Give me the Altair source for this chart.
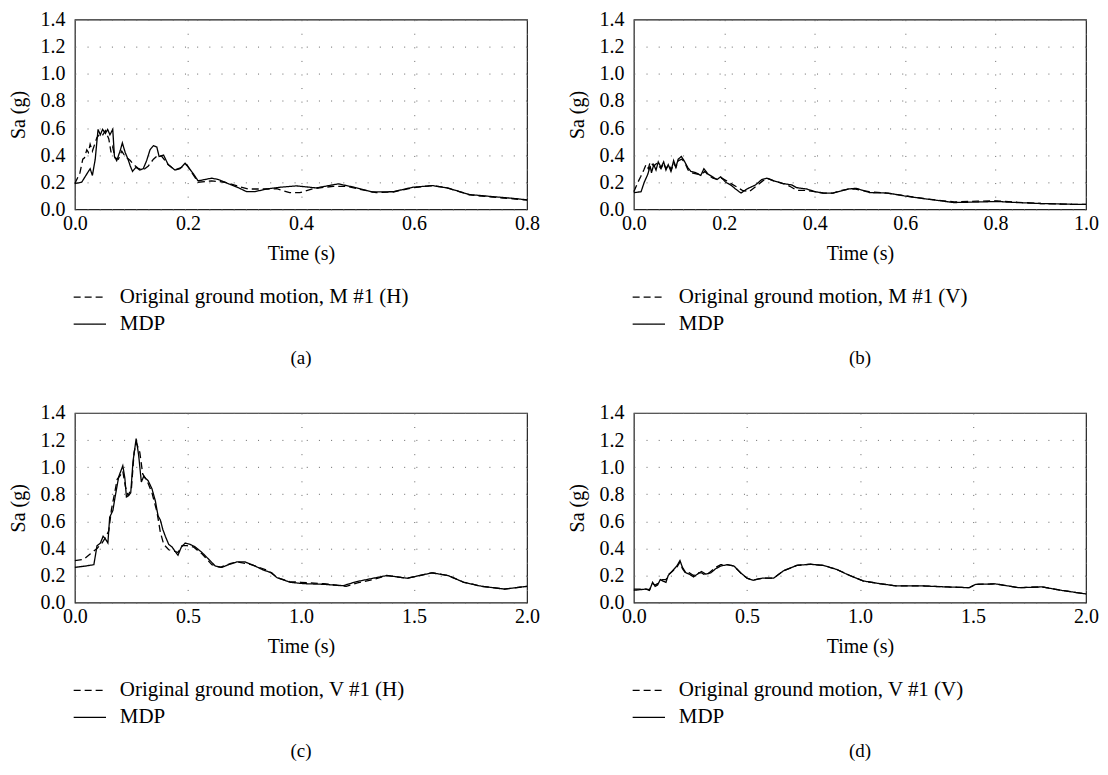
import altair as alt
import pandas as pd

FONT = "Liberation Serif"

# ---------------- panel (a) ----------------
a_mdp_t = [0.000, 0.012, 0.021, 0.027, 0.031, 0.036, 0.041, 0.045, 0.049, 0.054, 0.058, 0.062, 0.067,
           0.070, 0.074, 0.080, 0.084, 0.089, 0.094, 0.098, 0.102, 0.108, 0.115, 0.121, 0.127, 0.133,
           0.139, 0.145, 0.149, 0.157, 0.165, 0.177, 0.186, 0.195, 0.201, 0.210, 0.218, 0.230, 0.242,
           0.254, 0.271, 0.289, 0.304, 0.318, 0.339, 0.363, 0.392, 0.427, 0.466, 0.492, 0.527, 0.563,
           0.598, 0.633, 0.660, 0.698, 0.739, 0.775, 0.800]
a_mdp_sa = [0.19, 0.20, 0.26, 0.30, 0.25, 0.37, 0.59, 0.55, 0.59, 0.56, 0.59, 0.55, 0.59,
            0.39, 0.36, 0.43, 0.49, 0.42, 0.37, 0.32, 0.28, 0.31, 0.29, 0.30, 0.36, 0.44,
            0.47, 0.46, 0.39, 0.40, 0.33, 0.29, 0.30, 0.34, 0.31, 0.26, 0.21, 0.22, 0.23,
            0.22, 0.19, 0.16, 0.13, 0.13, 0.15, 0.163, 0.173, 0.158, 0.188, 0.165, 0.128, 0.13,
            0.163, 0.175, 0.157, 0.109, 0.094, 0.081, 0.070]
a_org_t = [0.000, 0.009, 0.014, 0.017, 0.021, 0.024, 0.027, 0.031, 0.035, 0.039, 0.043, 0.048, 0.054,
           0.060, 0.064, 0.067, 0.071, 0.077, 0.083, 0.089, 0.098, 0.104, 0.113, 0.121, 0.130, 0.139,
           0.147, 0.154, 0.165, 0.177, 0.189, 0.198, 0.207, 0.218, 0.242, 0.265, 0.289, 0.307, 0.324,
           0.342, 0.357, 0.380, 0.398, 0.421, 0.457, 0.480, 0.504, 0.533, 0.563, 0.598, 0.633, 0.660,
           0.698, 0.739, 0.775, 0.800]
a_org_sa = [0.19, 0.27, 0.37, 0.38, 0.44, 0.42, 0.48, 0.43, 0.48, 0.53, 0.55, 0.54, 0.58,
            0.52, 0.42, 0.46, 0.38, 0.37, 0.43, 0.39, 0.36, 0.33, 0.30, 0.29, 0.32, 0.37,
            0.40, 0.39, 0.33, 0.29, 0.31, 0.33, 0.27, 0.20, 0.21, 0.20, 0.17, 0.15, 0.15,
            0.15, 0.152, 0.123, 0.123, 0.152, 0.17, 0.17, 0.148, 0.123, 0.128, 0.16, 0.175, 0.157,
            0.107, 0.090, 0.078, 0.068]

# ---------------- panel (b) ----------------
b_mdp_t = [0.000, 0.016, 0.023, 0.031, 0.036, 0.039, 0.044, 0.049, 0.054, 0.060, 0.066, 0.071, 0.076,
           0.082, 0.088, 0.093, 0.098, 0.105, 0.111, 0.119, 0.126, 0.137, 0.148, 0.155, 0.164, 0.174,
           0.184, 0.192, 0.203, 0.214, 0.225, 0.237, 0.250, 0.269, 0.283, 0.294, 0.309, 0.331, 0.349,
           0.360, 0.382, 0.401, 0.419, 0.441, 0.463, 0.474, 0.492, 0.522, 0.562, 0.598, 0.650, 0.708,
           0.760, 0.803, 0.848, 0.906, 0.972, 1.000]
b_mdp_sa = [0.123, 0.13, 0.20, 0.26, 0.32, 0.27, 0.33, 0.29, 0.35, 0.31, 0.35, 0.29, 0.33,
            0.28, 0.36, 0.31, 0.37, 0.39, 0.36, 0.31, 0.28, 0.27, 0.25, 0.30, 0.26, 0.24,
            0.22, 0.24, 0.20, 0.18, 0.15, 0.12, 0.15, 0.18, 0.22, 0.23, 0.21, 0.19, 0.18,
            0.16, 0.15, 0.13, 0.12, 0.12, 0.14, 0.15, 0.155, 0.123, 0.12, 0.099, 0.075, 0.05,
            0.054, 0.058, 0.05, 0.042, 0.037, 0.037]
b_org_t = [0.000, 0.009, 0.015, 0.022, 0.027, 0.032, 0.036, 0.044, 0.051, 0.060, 0.066, 0.071, 0.077,
           0.083, 0.088, 0.093, 0.099, 0.106, 0.112, 0.120, 0.128, 0.140, 0.150, 0.157, 0.165, 0.175,
           0.185, 0.195, 0.205, 0.215, 0.225, 0.240, 0.255, 0.270, 0.285, 0.295, 0.310, 0.330, 0.345,
           0.360, 0.380, 0.400, 0.420, 0.440, 0.460, 0.475, 0.490, 0.520, 0.560, 0.600, 0.650, 0.708,
           0.760, 0.800, 0.850, 0.900, 0.970, 1.000]
b_org_sa = [0.13, 0.20, 0.24, 0.29, 0.33, 0.30, 0.35, 0.32, 0.34, 0.30, 0.34, 0.30, 0.33,
            0.29, 0.34, 0.31, 0.36, 0.37, 0.35, 0.29, 0.27, 0.26, 0.26, 0.28, 0.25, 0.23,
            0.22, 0.23, 0.21, 0.19, 0.17, 0.14, 0.13, 0.17, 0.21, 0.23, 0.21, 0.19, 0.17,
            0.14, 0.14, 0.13, 0.12, 0.12, 0.14, 0.15, 0.15, 0.13, 0.12, 0.10, 0.075, 0.055,
            0.060, 0.062, 0.052, 0.043, 0.037, 0.037]

# ---------------- panel (c) ----------------
c_mdp_t = [0.000, 0.047, 0.084, 0.098, 0.113, 0.125, 0.135, 0.146, 0.154, 0.168, 0.179, 0.194, 0.212,
           0.221, 0.228, 0.238, 0.247, 0.257, 0.271, 0.282, 0.294, 0.304, 0.324, 0.341, 0.356, 0.368,
           0.378, 0.389, 0.400, 0.415, 0.430, 0.447, 0.456, 0.471, 0.488, 0.510, 0.533, 0.562, 0.592,
           0.621, 0.650, 0.680, 0.716, 0.753, 0.797, 0.834, 0.871, 0.893, 0.952, 1.010, 1.100, 1.187,
           1.246, 1.320, 1.380, 1.470, 1.580, 1.650, 1.720, 1.800, 1.900, 2.000]
c_mdp_sa = [0.26, 0.27, 0.28, 0.42, 0.44, 0.49, 0.47, 0.44, 0.63, 0.68, 0.79, 0.93, 1.01,
            0.92, 0.78, 0.79, 0.81, 1.04, 1.21, 1.09, 0.89, 0.93, 0.90, 0.84, 0.75, 0.64,
            0.61, 0.54, 0.49, 0.43, 0.41, 0.37, 0.35, 0.41, 0.44, 0.43, 0.41, 0.37, 0.32,
            0.27, 0.26, 0.28, 0.30, 0.30, 0.27, 0.24, 0.22, 0.185, 0.15, 0.14, 0.135, 0.125,
            0.155, 0.18, 0.20, 0.18, 0.22, 0.20, 0.15, 0.12, 0.10, 0.12]
c_org_t = [0.000, 0.040, 0.069, 0.098, 0.120, 0.135, 0.150, 0.162, 0.176, 0.187, 0.201, 0.212, 0.223,
           0.235, 0.250, 0.262, 0.272, 0.287, 0.300, 0.319, 0.341, 0.363, 0.378, 0.393, 0.415, 0.437,
           0.456, 0.474, 0.496, 0.525, 0.562, 0.606, 0.643, 0.690, 0.720, 0.780, 0.850, 0.900, 0.950,
           1.000, 1.100, 1.200, 1.250, 1.320, 1.380, 1.470, 1.580, 1.650, 1.720, 1.800, 1.900, 2.000]
c_org_sa = [0.31, 0.32, 0.36, 0.40, 0.44, 0.48, 0.53, 0.69, 0.81, 0.91, 0.94, 0.97, 0.86,
            0.79, 0.84, 1.11, 1.18, 1.11, 0.95, 0.90, 0.81, 0.67, 0.52, 0.43, 0.39, 0.38,
            0.37, 0.42, 0.42, 0.41, 0.36, 0.28, 0.26, 0.29, 0.30, 0.28, 0.24, 0.18, 0.155,
            0.15, 0.14, 0.12, 0.145, 0.17, 0.20, 0.18, 0.22, 0.20, 0.15, 0.12, 0.10, 0.12]

# ---------------- panel (d) ----------------
d_mdp_t = [0.000, 0.054, 0.069, 0.083, 0.094, 0.105, 0.117, 0.127, 0.142, 0.152, 0.171, 0.190, 0.204,
           0.215, 0.230, 0.245, 0.264, 0.281, 0.299, 0.318, 0.340, 0.362, 0.384, 0.413, 0.443, 0.472,
           0.501, 0.527, 0.567, 0.618, 0.662, 0.721, 0.780, 0.838, 0.897, 0.955, 1.014, 1.087, 1.161,
           1.278, 1.380, 1.483, 1.512, 1.600, 1.703, 1.805, 1.893, 2.000]
d_mdp_sa = [0.091, 0.10, 0.09, 0.15, 0.12, 0.13, 0.17, 0.16, 0.15, 0.20, 0.235, 0.27, 0.31,
            0.26, 0.22, 0.21, 0.19, 0.21, 0.23, 0.21, 0.22, 0.25, 0.27, 0.28, 0.27, 0.22,
            0.18, 0.165, 0.18, 0.18, 0.235, 0.275, 0.283, 0.275, 0.245, 0.20, 0.16, 0.14, 0.123,
            0.123, 0.116, 0.11, 0.135, 0.138, 0.11, 0.116, 0.09, 0.064]
d_org_t = [0.000, 0.054, 0.069, 0.083, 0.094, 0.105, 0.117, 0.127, 0.142, 0.155, 0.170, 0.190, 0.204,
           0.215, 0.230, 0.245, 0.264, 0.281, 0.299, 0.318, 0.340, 0.362, 0.384, 0.413, 0.443, 0.472,
           0.501, 0.527, 0.567, 0.618, 0.662, 0.721, 0.780, 0.838, 0.897, 0.955, 1.014, 1.087, 1.161,
           1.278, 1.380, 1.483, 1.512, 1.600, 1.703, 1.805, 1.893, 2.000]
d_org_sa = [0.10, 0.10, 0.095, 0.14, 0.13, 0.14, 0.16, 0.17, 0.17, 0.21, 0.23, 0.26, 0.30,
            0.25, 0.215, 0.22, 0.20, 0.22, 0.22, 0.20, 0.23, 0.26, 0.28, 0.28, 0.27, 0.22,
            0.18, 0.165, 0.18, 0.18, 0.235, 0.275, 0.283, 0.275, 0.245, 0.20, 0.16, 0.14, 0.123,
            0.123, 0.116, 0.11, 0.135, 0.138, 0.11, 0.116, 0.09, 0.064]

labels = ["Original ground motion, M #1 (H)", "Original ground motion, M #1 (V)",
          "Original ground motion, V #1 (H)", "Original ground motion, V #1 (V)"]
captions = ["(a)", "(b)", "(c)", "(d)"]
x_max = [0.8, 1.0, 2.0, 2.0]
x_ticks = [[0.0, 0.2, 0.4, 0.6, 0.8], [0.0, 0.2, 0.4, 0.6, 0.8, 1.0],
           [0.0, 0.5, 1.0, 1.5, 2.0], [0.0, 0.5, 1.0, 1.5, 2.0]]
y_ticks = [0.0, 0.2, 0.4, 0.6, 0.8, 1.0, 1.2, 1.4]

W, H = 453, 190


def panel(mdp_t, mdp_sa, org_t, org_sa, label, xmax, xt, caption):
    df = pd.concat([
        pd.DataFrame({"t": org_t, "sa": org_sa, "series": label}),
        pd.DataFrame({"t": mdp_t, "sa": mdp_sa, "series": "MDP"}),
    ], ignore_index=True)
    return alt.Chart(df).mark_line(color="black", strokeWidth=1.3).encode(
        x=alt.X("t:Q", scale=alt.Scale(domain=[0, xmax], nice=False, zero=True),
                axis=alt.Axis(values=xt, format=".1f", title="Time (s)")),
        y=alt.Y("sa:Q", scale=alt.Scale(domain=[0, 1.4], nice=False),
                axis=alt.Axis(values=y_ticks, format=".1f", title="Sa (g)")),
        strokeDash=alt.StrokeDash(
            "series:N",
            scale=alt.Scale(domain=[label, "MDP"], range=[[7, 4], [1, 0]]),
            legend=alt.Legend(title=None, orient="none", legendX=-2, legendY=H + 71,
                              direction="vertical", symbolType="stroke", symbolSize=1050,
                              symbolStrokeWidth=1.3, symbolStrokeColor="black",
                              labelFont=FONT, labelFontSize=21, labelColor="black",
                              labelOffset=13, rowPadding=-16, labelLimit=500),
        ),
    ).properties(
        width=W, height=H,
        title=alt.TitleParams(caption, orient="bottom", anchor="middle", offset=15,
                              font=FONT, fontSize=19, fontWeight="normal", color="black"),
    )


charts = []
for i, (mt, ms, ot, os_) in enumerate([
    (a_mdp_t, a_mdp_sa, a_org_t, a_org_sa),
    (b_mdp_t, b_mdp_sa, b_org_t, b_org_sa),
    (c_mdp_t, c_mdp_sa, c_org_t, c_org_sa),
    (d_mdp_t, d_mdp_sa, d_org_t, d_org_sa),
]):
    charts.append(panel(mt, ms, ot, os_, labels[i], x_max[i], x_ticks[i], captions[i]))

chart = alt.concat(
    *charts, columns=2, spacing={"row": 204, "column": 107}, bounds="flush"
).resolve_scale(strokeDash="independent").resolve_legend(strokeDash="independent").properties(
    padding={"left": 0, "top": 0, "right": 0, "bottom": 4},
    background="white",
).configure_view(
    stroke="#222", strokeWidth=1.2
).configure_axis(
    domain=False, ticks=False, grid=True, gridColor="#666", gridWidth=1,
    labelFlush=False, labelOverlap=False,
    labelFont=FONT, labelFontSize=20, labelColor="black", labelPadding=10,
    titleFont=FONT, titleFontSize=20, titleFontWeight="normal", titleColor="black",
).configure_axisX(
    gridDash=[1, 12.6], titlePadding=10, labelPadding=4
).configure_axisY(
    gridDash=[1, 11.2], titlePadding=11
)

chart.save("out.html", embed_options={"renderer": "svg", "actions": False})
